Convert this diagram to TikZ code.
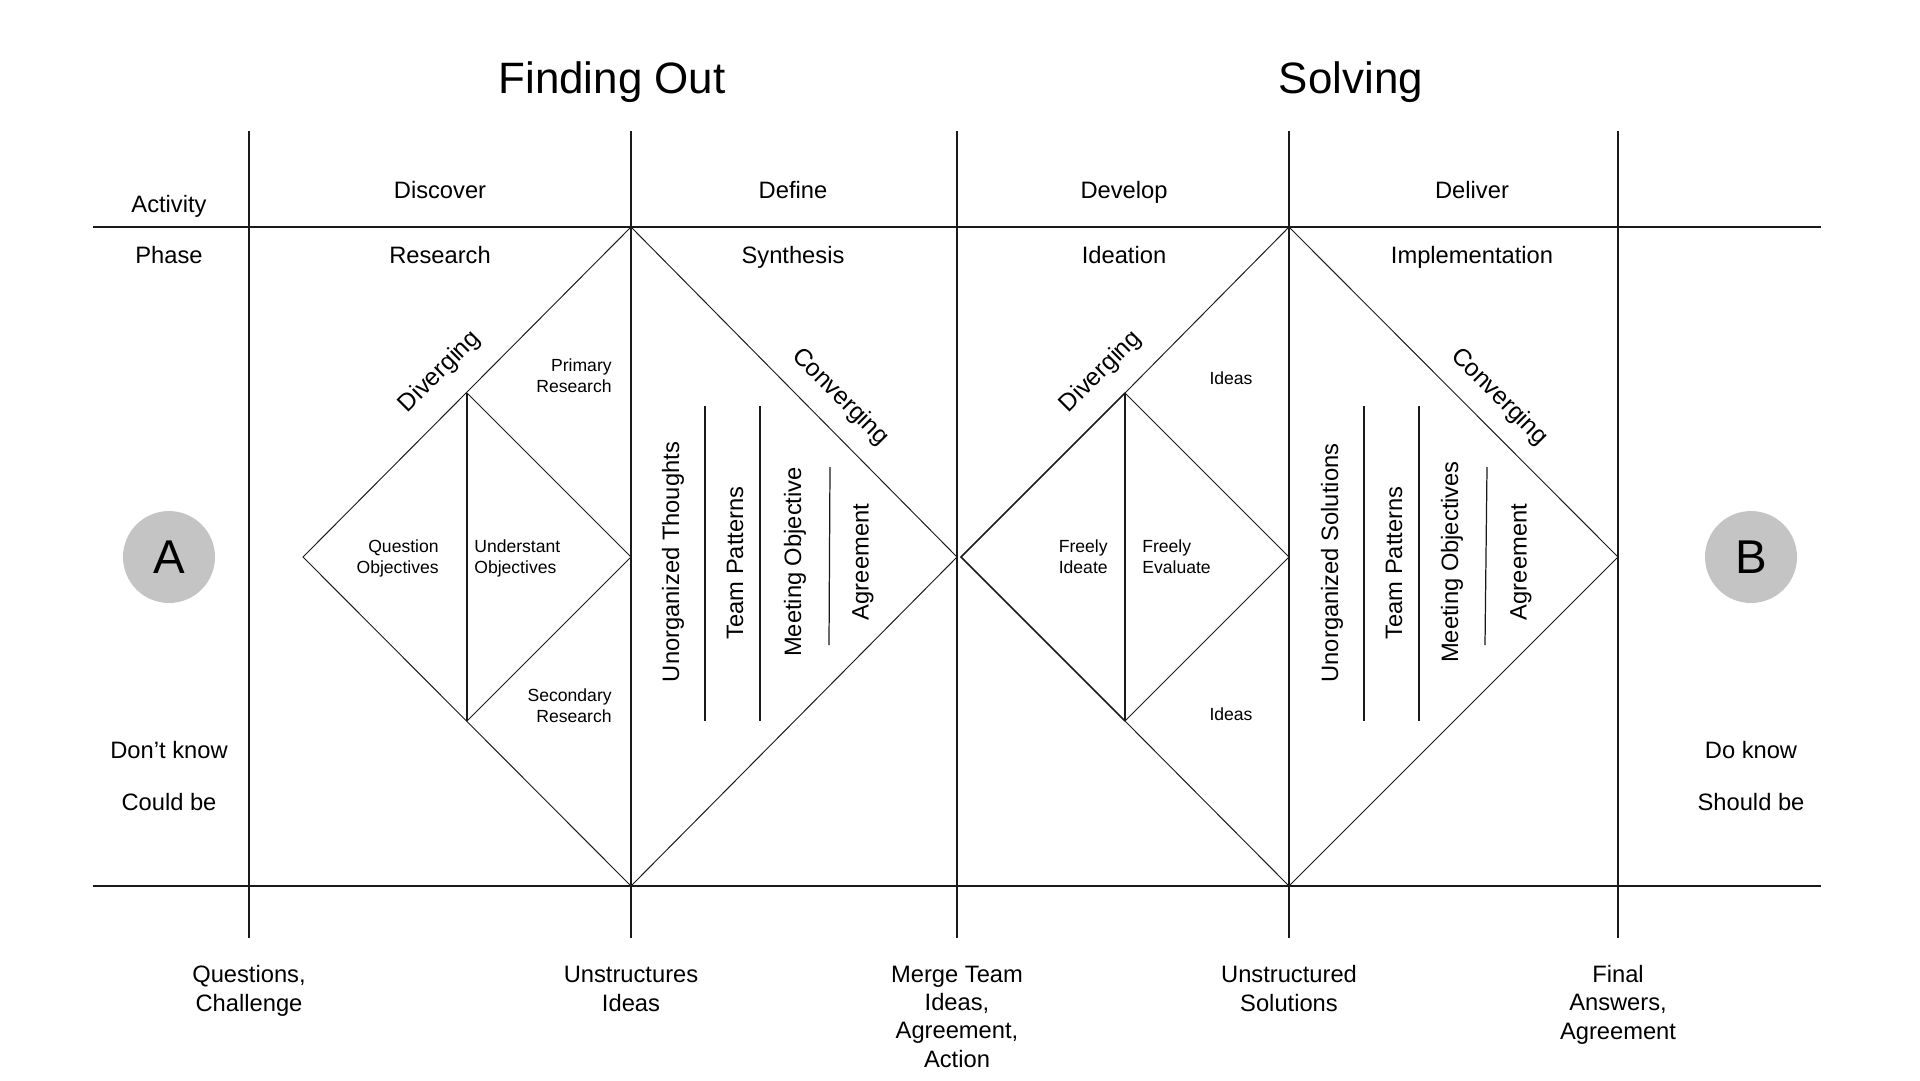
\documentclass[tikz,border=0pt]{standalone}
\usepackage{fontspec}
\setmainfont{Liberation Sans}
\definecolor{CircleGray}{HTML}{C4C4C4}
\definecolor{LineBlack}{HTML}{1A1A1A}

\begin{document}
\begin{tikzpicture}[x=0.02cm, y=-0.02cm,
    txt/.style={font=\fontsize{13.5}{16}\selectfont, align=center, inner sep=0pt, anchor=base},
    smalltxt/.style={font=\fontsize{10}{11.4}\selectfont, inner sep=0pt},
    turned/.style={font=\fontsize{13.5}{16}\selectfont, rotate=90, inner sep=0pt},
    slanted/.style={font=\fontsize{14}{16}\selectfont, inner sep=0pt},
    frame/.style={LineBlack, line width=0.7pt},
    diag/.style={LineBlack, line width=0.55pt},
    endpoint/.style={circle, fill=CircleGray, minimum size=1.84cm, inner sep=0pt,
      font=\fontsize{27}{30}\selectfont}]
  \useasboundingbox (0,0) rectangle (1920,1080);

  % Titles
  \node[txt, font=\fontsize{25}{28}\selectfont] (findout) at (612,93) {Finding Out};
  \node[txt, font=\fontsize{25}{28}\selectfont] (solving) at (1351,93) {Solving};

  % Grid
  \coordinate (rowtopL) at (93,227);   \coordinate (rowtopR) at (1821,227);
  \coordinate (rowbotL) at (93,886);   \coordinate (rowbotR) at (1821,886);
  \draw[frame] (rowtopL) -- (rowtopR);
  \draw[frame] (rowbotL) -- (rowbotR);
  \foreach \colx/\colname in {249/c0, 631/c1, 957/c2, 1289/c3, 1618/c4} {
    \coordinate (\colname top) at (\colx,131);
    \coordinate (\colname bot) at (\colx,938);
    \draw[frame] (\colname top) -- (\colname bot);
  }

  % Header rows
  \node[txt] (activity) at (169,212) {Activity};
  \node[txt] (phase) at (169,263) {Phase};
  \node[txt] (discover) at (440,198) {Discover};
  \node[txt] (define) at (793,198) {Define};
  \node[txt] (develop) at (1124,198) {Develop};
  \node[txt] (deliver) at (1472,198) {Deliver};
  \node[txt] (research) at (440,263) {Research};
  \node[txt] (synthesis) at (793,263) {Synthesis};
  \node[txt] (ideation) at (1124,263) {Ideation};
  \node[txt] (implement) at (1472,263) {Implementation};

  % First diamond
  \coordinate (topA) at (631,227);
  \coordinate (leftA) at (303,557);
  \coordinate (botA) at (631,886);
  \coordinate (intopA) at (467,393);
  \coordinate (inrightA) at (631,557);
  \coordinate (inbotA) at (467,721);
  \coordinate (convA) at (957,557);
  \draw[diag] (topA) -- (leftA) -- (botA);
  \draw[diag] (intopA) -- (inrightA) -- (inbotA);
  \draw[frame] (intopA) -- (inbotA);
  \draw[diag] (topA) -- (convA) -- (botA);

  % Second diamond
  \coordinate (topB) at (1289,227);
  \coordinate (leftB) at (961,557);
  \coordinate (botB) at (1289,886);
  \coordinate (intopB) at (1125,393);
  \coordinate (inrightB) at (1289,557);
  \coordinate (inbotB) at (1125,721);
  \coordinate (convB) at (1618,557);
  \draw[diag] (topB) -- (intopB);
  \draw[LineBlack, line width=0.9pt] (intopB) -- (leftB) -- (inbotB);
  \draw[diag] (inbotB) -- (botB);
  \draw[diag] (intopB) -- (inrightB) -- (inbotB);
  \draw[frame] (intopB) -- (inbotB);
  \draw[diag] (topB) -- (convB) -- (botB);

  % Diverging / converging
  \node[slanted, rotate=45] (divA) at (440,372) {Diverging};
  \node[slanted, rotate=45] (divB) at (1101,372) {Diverging};
  \node[slanted, rotate=-45] (convtxtA) at (840,397) {Converging};
  \node[slanted, rotate=-45] (convtxtB) at (1499,397) {Converging};

  % Small labels (base = last line)
  \node[smalltxt, anchor=base east, align=right] (primary) at (612,392) {Primary\\Research};
  \node[smalltxt, anchor=base east, align=right] (question) at (439,573) {Question\\Objectives};
  \node[smalltxt, anchor=base west, align=left] (understand) at (474,573) {Understant\\Objectives};
  \node[smalltxt, anchor=base east, align=right] (secondary) at (612,722) {Secondary\\Research};
  \node[smalltxt, anchor=base east, align=right] (ideate) at (1108,573) {Freely\\Ideate};
  \node[smalltxt, anchor=base west, align=left] (evaluate) at (1142,573) {Freely\\Evaluate};
  \node[smalltxt, anchor=base] (ideasup) at (1231,384) {Ideas};
  \node[smalltxt, anchor=base] (ideasdown) at (1231,720) {Ideas};

  % Synthesis columns
  \node[turned] (thoughts) at (673,562) {Unorganized Thoughts};
  \node[turned] (patternsA) at (735,563) {Team Patterns};
  \node[turned] (meetingA) at (795,562) {Meeting Objective};
  \node[turned] (agreeA) at (863,562) {Agreement};
  \coordinate (barA1t) at (705,406); \coordinate (barA1b) at (705,721);
  \coordinate (barA2t) at (760,406); \coordinate (barA2b) at (760,721);
  \coordinate (barA3t) at (830,467); \coordinate (barA3b) at (829,645);
  \draw[frame] (barA1t) -- (barA1b);
  \draw[frame] (barA2t) -- (barA2b);
  \draw[frame] (barA3t) -- (barA3b);

  % Implementation columns
  \node[turned] (solutions) at (1332,563) {Unorganized Solutions};
  \node[turned] (patternsB) at (1394,563) {Team Patterns};
  \node[turned] (meetingB) at (1452,562) {Meeting Objectives};
  \node[turned] (agreeB) at (1521,562) {Agreement};
  \coordinate (barB1t) at (1364,406); \coordinate (barB1b) at (1364,721);
  \coordinate (barB2t) at (1419,406); \coordinate (barB2b) at (1419,721);
  \coordinate (barB3t) at (1487,467); \coordinate (barB3b) at (1485,645);
  \draw[frame] (barB1t) -- (barB1b);
  \draw[frame] (barB2t) -- (barB2b);
  \draw[frame] (barB3t) -- (barB3b);

  % Start and end
  \node[endpoint] (pointA) at (169,557) {A};
  \node[endpoint] (pointB) at (1751,557) {B};
  \node[txt] (dontknow) at (169,758) {Don’t know};
  \node[txt] (couldbe) at (169,810) {Could be};
  \node[txt] (doknow) at (1751,758) {Do know};
  \node[txt] (shouldbe) at (1751,810) {Should be};

  % Outcomes (base = last line)
  \node[txt] (outA) at (249,1011) {Questions,\\Challenge};
  \node[txt] (outB) at (631,1011) {Unstructures\\Ideas};
  \node[txt] (outC) at (957,1067) {Merge Team\\Ideas,\\Agreement,\\Action};
  \node[txt] (outD) at (1289,1011) {Unstructured\\Solutions};
  \node[txt] (outE) at (1618,1039) {Final\\Answers,\\Agreement};
\end{tikzpicture}
\end{document}
